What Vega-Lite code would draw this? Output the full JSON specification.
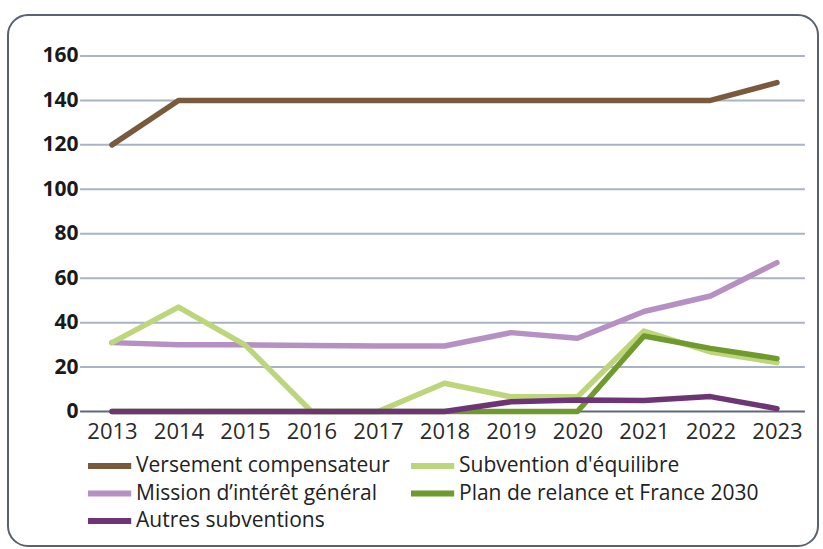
{
  "$schema": "https://vega.github.io/schema/vega-lite/v6.json",
  "width": 810,
  "height": 531,
  "autosize": {"type": "none"},
  "padding": {"left": 8, "top": 15, "right": 5, "bottom": 3},
  "background": "white",
  "config": {
    "view": {"stroke": "#5a6270", "strokeWidth": 2, "cornerRadius": 20, "fill": "white"},
    "font": "Open Sans"
  },
  "datasets": {
    "grid": [{"v": 0}, {"v": 20}, {"v": 40}, {"v": 60}, {"v": 80}, {"v": 100}, {"v": 120}, {"v": 140}, {"v": 160}],
    "series": [
      {"annee": 2013, "serie": "Versement compensateur", "valeur": 120},
      {"annee": 2014, "serie": "Versement compensateur", "valeur": 140},
      {"annee": 2015, "serie": "Versement compensateur", "valeur": 140},
      {"annee": 2016, "serie": "Versement compensateur", "valeur": 140},
      {"annee": 2017, "serie": "Versement compensateur", "valeur": 140},
      {"annee": 2018, "serie": "Versement compensateur", "valeur": 140},
      {"annee": 2019, "serie": "Versement compensateur", "valeur": 140},
      {"annee": 2020, "serie": "Versement compensateur", "valeur": 140},
      {"annee": 2021, "serie": "Versement compensateur", "valeur": 140},
      {"annee": 2022, "serie": "Versement compensateur", "valeur": 140},
      {"annee": 2023, "serie": "Versement compensateur", "valeur": 148},
      {"annee": 2013, "serie": "Mission d’intérêt général", "valeur": 31},
      {"annee": 2014, "serie": "Mission d’intérêt général", "valeur": 30},
      {"annee": 2015, "serie": "Mission d’intérêt général", "valeur": 30},
      {"annee": 2016, "serie": "Mission d’intérêt général", "valeur": 29.7},
      {"annee": 2017, "serie": "Mission d’intérêt général", "valeur": 29.5},
      {"annee": 2018, "serie": "Mission d’intérêt général", "valeur": 29.5},
      {"annee": 2019, "serie": "Mission d’intérêt général", "valeur": 35.5},
      {"annee": 2020, "serie": "Mission d’intérêt général", "valeur": 33},
      {"annee": 2021, "serie": "Mission d’intérêt général", "valeur": 45},
      {"annee": 2022, "serie": "Mission d’intérêt général", "valeur": 52},
      {"annee": 2023, "serie": "Mission d’intérêt général", "valeur": 67},
      {"annee": 2013, "serie": "Subvention d'équilibre", "valeur": 31},
      {"annee": 2014, "serie": "Subvention d'équilibre", "valeur": 47},
      {"annee": 2015, "serie": "Subvention d'équilibre", "valeur": 30},
      {"annee": 2016, "serie": "Subvention d'équilibre", "valeur": 0},
      {"annee": 2017, "serie": "Subvention d'équilibre", "valeur": 0},
      {"annee": 2018, "serie": "Subvention d'équilibre", "valeur": 12.7},
      {"annee": 2019, "serie": "Subvention d'équilibre", "valeur": 6.6},
      {"annee": 2020, "serie": "Subvention d'équilibre", "valeur": 6.6},
      {"annee": 2021, "serie": "Subvention d'équilibre", "valeur": 36.2},
      {"annee": 2022, "serie": "Subvention d'équilibre", "valeur": 26.8},
      {"annee": 2023, "serie": "Subvention d'équilibre", "valeur": 22},
      {"annee": 2013, "serie": "Plan de relance et France 2030", "valeur": 0},
      {"annee": 2014, "serie": "Plan de relance et France 2030", "valeur": 0},
      {"annee": 2015, "serie": "Plan de relance et France 2030", "valeur": 0},
      {"annee": 2016, "serie": "Plan de relance et France 2030", "valeur": 0},
      {"annee": 2017, "serie": "Plan de relance et France 2030", "valeur": 0},
      {"annee": 2018, "serie": "Plan de relance et France 2030", "valeur": 0},
      {"annee": 2019, "serie": "Plan de relance et France 2030", "valeur": 0},
      {"annee": 2020, "serie": "Plan de relance et France 2030", "valeur": 0},
      {"annee": 2021, "serie": "Plan de relance et France 2030", "valeur": 34},
      {"annee": 2022, "serie": "Plan de relance et France 2030", "valeur": 28.4},
      {"annee": 2023, "serie": "Plan de relance et France 2030", "valeur": 23.8},
      {"annee": 2013, "serie": "Autres subventions", "valeur": 0},
      {"annee": 2014, "serie": "Autres subventions", "valeur": 0},
      {"annee": 2015, "serie": "Autres subventions", "valeur": 0},
      {"annee": 2016, "serie": "Autres subventions", "valeur": 0},
      {"annee": 2017, "serie": "Autres subventions", "valeur": 0},
      {"annee": 2018, "serie": "Autres subventions", "valeur": 0},
      {"annee": 2019, "serie": "Autres subventions", "valeur": 4.4},
      {"annee": 2020, "serie": "Autres subventions", "valeur": 5.2},
      {"annee": 2021, "serie": "Autres subventions", "valeur": 5},
      {"annee": 2022, "serie": "Autres subventions", "valeur": 6.7},
      {"annee": 2023, "serie": "Autres subventions", "valeur": 1.3}
    ]
  },
  "layer": [
    {
      "data": {"name": "grid"},
      "mark": {"type": "rule", "strokeWidth": 2},
      "encoding": {
        "x": {"datum": 2012.52, "type": "quantitative", "scale": {"domain": [2011.436, 2023.617], "nice": false, "zero": false}},
        "x2": {"datum": 2023.42},
        "y": {"field": "v", "type": "quantitative", "scale": {"domain": [-60.53, 178.45], "nice": false, "zero": false}},
        "color": {"condition": {"test": "datum.v === 0", "value": "#5f6778"}, "value": "#a9b3c4"}
      }
    },
    {
      "data": {"name": "series"},
      "mark": {"type": "line", "strokeWidth": 5.5, "strokeCap": "round", "strokeJoin": "round"},
      "encoding": {
        "x": {
          "field": "annee", "type": "quantitative",
          "axis": {
            "values": [2013, 2014, 2015, 2016, 2017, 2018, 2019, 2020, 2021, 2022, 2023],
            "format": "d", "title": null, "grid": false, "ticks": false, "domain": false,
            "labelPadding": 0, "offset": -125, "labelFontSize": 22, "labelColor": "#2a2a2a",
            "labelFont": "Open Sans", "labelFlush": false
          }
        },
        "y": {
          "field": "valeur", "type": "quantitative",
          "axis": {
            "values": [0, 20, 40, 60, 80, 100, 120, 140, 160],
            "title": null, "grid": false, "ticks": false, "domain": false,
            "labelPadding": 2, "offset": -72, "labelFontSize": 21, "labelFontWeight": "bold",
            "labelColor": "#1a1a1a", "labelFont": "Open Sans", "labelFlush": false
          }
        },
        "color": {
          "field": "serie", "type": "nominal",
          "scale": {
            "domain": ["Versement compensateur", "Mission d’intérêt général", "Autres subventions", "Subvention d'équilibre", "Plan de relance et France 2030"],
            "range": ["#7a5a3c", "#b68fc3", "#6e3576", "#bed67b", "#6f9a2e"]
          },
          "legend": {
            "title": null, "orient": "none", "legendX": 86.6, "legendY": 436, "columns": 2,
            "symbolType": "M-1.8,0H1.8", "symbolSize": 576, "symbolStrokeWidth": 6,
            "labelFontSize": 21, "labelColor": "#222222", "labelFont": "Open Sans",
            "labelOffset": 11.4, "columnPadding": 8, "rowPadding": 0.5, "labelLimit": 400
          }
        }
      }
    }
  ]
}
